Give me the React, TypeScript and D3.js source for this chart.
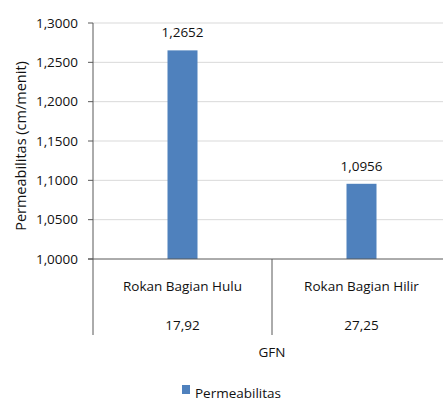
import * as d3 from 'd3'

const categories = ['Rokan Bagian Hulu', 'Rokan Bagian Hilir']
const gfnLabels = ['17,92', '27,25']
const permeabilitas = [1.2652, 1.0956]
const yTicks = [1.0, 1.05, 1.1, 1.15, 1.2, 1.25, 1.3]

const W = 443
const H = 406
const FONT = "'Open Sans', 'Liberation Sans', sans-serif"
const fmt = (v: number) => v.toFixed(4).replace('.', ',')

const App = () => {
  const left = 93
  const top = 23
  const bottom = 259

  const x = d3.scaleBand().domain(categories).range([left, 451])
  const y = d3.scaleLinear().domain([1.0, 1.3]).range([bottom, top])
  const barW = 30

  return (
    <svg width={W} height={H} style={{ position: 'absolute', left: 0, top: 0 }} fontFamily={FONT}>
      <rect width={W} height={H} fill="#fff" />
      {/* grid */}
      {yTicks.slice(1).map((t) => (
        <line key={t} x1={left} x2={W} y1={y(t)} y2={y(t)} stroke="#d9d9d9" strokeWidth={1} />
      ))}
      {/* y axis */}
      <line x1={left} x2={left} y1={top} y2={335} stroke="#595959" />
      {yTicks.map((t) => (
        <g key={t}>
          <line x1={left - 5} x2={left} y1={y(t)} y2={y(t)} stroke="#595959" />
          <text x={78} y={y(t)} dy="0.35em" textAnchor="end" fontSize={13.5} fill="#111">
            {fmt(t)}
          </text>
        </g>
      ))}
      <text
        transform={`translate(26, ${(top + bottom) / 2 + 5}) rotate(-90)`}
        textAnchor="middle"
        fontSize={14.5}
        fill="#111"
      >
        Permeabilitas (cm/menit)
      </text>
      {/* bars */}
      {categories.map((c, i) => {
        const cx = x(c)! + x.bandwidth() / 2
        return (
          <g key={c}>
            <rect x={cx - barW / 2} y={y(permeabilitas[i])} width={barW} height={bottom - y(permeabilitas[i])} fill="#4f81bd" />
            <text x={cx} y={y(permeabilitas[i]) - 13} textAnchor="middle" fontSize={13.5} fill="#111">
              {fmt(permeabilitas[i])}
            </text>
            <text x={cx} y={291} textAnchor="middle" fontSize={13.5} fill="#111">{c}</text>
            <text x={cx} y={330} textAnchor="middle" fontSize={13.5} fill="#111">{gfnLabels[i]}</text>
            <line x1={x(c)! + x.bandwidth()} x2={x(c)! + x.bandwidth()} y1={bottom} y2={335} stroke="#595959" />
          </g>
        )
      })}
      {/* x axis */}
      <line x1={left - 5} x2={W} y1={bottom} y2={bottom} stroke="#595959" />
      <text x={x.range()[0] + x.bandwidth()} y={357} textAnchor="middle" fontSize={13.5} fill="#111">GFN</text>
      {/* legend */}
      <rect x={182} y={385} width={8} height={9} fill="#4f81bd" />
      <text x={195} y={398} fontSize={13.5} fill="#111">Permeabilitas</text>
    </svg>
  )
}

export default App
